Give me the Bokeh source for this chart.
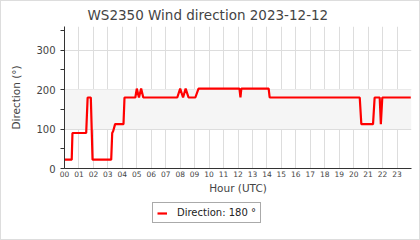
from bokeh.plotting import figure
from bokeh.models import Range1d, FixedTicker, BoxAnnotation, Legend, LegendItem, Column, Label
from bokeh.embed import file_html
from bokeh.resources import INLINE

# ---- data ----
hours = [0.0, 0.5, 0.55, 1.5, 1.6, 1.82, 1.94, 3.23, 3.3, 3.37, 3.5, 4.08, 4.15,
         4.9, 5.0, 5.15, 5.3, 5.45, 7.8, 8.0, 8.2, 8.38, 8.58, 9.05, 9.27,
         12.1, 12.17, 12.23, 14.12, 14.19, 20.42, 20.53, 21.34, 21.45,
         21.8, 21.88, 21.98, 23.95]
direction = [22.5, 22.5, 90, 90, 180, 180, 22.5, 22.5, 90, 95, 112.5, 112.5, 180,
             180, 202.5, 180, 202.5, 180, 180, 202.5, 180, 202.5, 180, 180, 202.5,
             202.5, 180, 202.5, 202.5, 180, 180, 112.5, 112.5, 180,
             180, 112.5, 180, 180]
hour_ticks = list(range(24))
hour_labels = ["%02d" % h for h in hour_ticks]
y_major = [0, 100, 200, 300]
y_minor = [50, 150, 250, 350]
band = (100, 200)
title_text = "WS2350 Wind direction 2023-12-12"
legend_text = "Direction: %d °" % direction[-1]

FONT = "DejaVu Sans"
TXT = "#444444"
LINE = "#ff0000"


def strip(height):
    f = figure(width=418, height=height, output_backend="svg", toolbar_location=None,
               x_range=Range1d(0, 1), y_range=Range1d(0, 1),
               x_axis_type=None, y_axis_type=None,
               min_border_left=0, min_border_right=0, min_border_top=0, min_border_bottom=0)
    f.outline_line_color = None
    f.grid.visible = False
    f.border_fill_color = "white"
    f.background_fill_color = "white"
    return f


# title strip
tf = strip(25)
tf.add_layout(Label(x=23, y=12, x_units="screen", y_units="screen", text=title_text,
                    text_font=FONT, text_font_size="13.5px", text_color=TXT,
                    text_baseline="alphabetic", text_align="left"))

p = figure(width=418, height=175, output_backend="svg", toolbar_location=None,
           x_range=Range1d(0, 24), y_range=Range1d(0, 360),
           min_border_left=63, min_border_right=8, min_border_top=0, min_border_bottom=33)
p.outline_line_color = None
p.background_fill_color = "white"
p.border_fill_color = "white"

p.add_layout(BoxAnnotation(bottom=band[0], top=band[1], fill_color="#f5f5f5", fill_alpha=1.0,
                           line_color=None, level="underlay"))

# x axis
p.xaxis.ticker = FixedTicker(ticks=hour_ticks)
p.xaxis.major_label_overrides = {h: l for h, l in zip(hour_ticks, hour_labels)}
p.xaxis.major_tick_out = 0
p.xaxis.major_tick_in = 0
p.xaxis.minor_tick_out = 0
p.xaxis.minor_tick_in = 0
p.xaxis.major_label_standoff = 2
p.xaxis.major_label_text_font = FONT
p.xaxis.major_label_text_font_size = "7.5px"
p.xaxis.major_label_text_color = TXT
p.xaxis.axis_label = "Hour (UTC)"
p.xaxis.axis_label_text_font = FONT
p.xaxis.axis_label_text_font_size = "10.5px"
p.xaxis.axis_label_text_font_style = "normal"
p.xaxis.axis_label_text_color = TXT
p.xaxis.axis_label_standoff = 2
p.xaxis.axis_line_color = "#333333"

# y axis
p.yaxis.ticker = FixedTicker(ticks=y_major, minor_ticks=y_minor)
p.yaxis.major_tick_out = 4
p.yaxis.major_tick_in = 0
p.yaxis.minor_tick_out = 4
p.yaxis.minor_tick_in = 0
p.yaxis.major_tick_line_color = "#333333"
p.yaxis.minor_tick_line_color = "#333333"
p.yaxis.major_label_standoff = 5
p.yaxis.major_label_text_font = FONT
p.yaxis.major_label_text_font_size = "10px"
p.yaxis.major_label_text_color = TXT
p.yaxis.axis_label = "Direction (°)"
p.yaxis.axis_label_text_font = FONT
p.yaxis.axis_label_text_font_size = "10.5px"
p.yaxis.axis_label_text_font_style = "normal"
p.yaxis.axis_label_text_color = TXT
p.yaxis.axis_label_standoff = 11
p.yaxis.axis_line_color = "#333333"

p.xgrid.grid_line_color = "#dddddd"
p.ygrid.grid_line_color = "#dddddd"

p.line(hours, direction, line_color=LINE, line_width=2.2)

# legend strip below the chart (its own small figure so the box is not clipped)
lf = strip(38)
swatch = lf.line([5, 6], [direction[-1], direction[-1]], line_color=LINE, line_width=2.2)
legend = Legend(items=[LegendItem(label=legend_text, renderers=[swatch])],
                location=(88, 16), orientation="horizontal",
                padding=4, margin=0, glyph_width=10, glyph_height=10,
                label_height=10, label_standoff=10, spacing=0,
                border_line_color="#555555", border_line_width=1,
                background_fill_color="white", background_fill_alpha=1.0,
                label_text_font=FONT, label_text_font_size="10px", label_text_color="#222222")
lf.add_layout(legend, "center")

layout = Column(children=[tf, p, lf], spacing=0, styles={"border": "1px solid #dddddd"})

open("out.html", "w").write(file_html(layout, INLINE))
